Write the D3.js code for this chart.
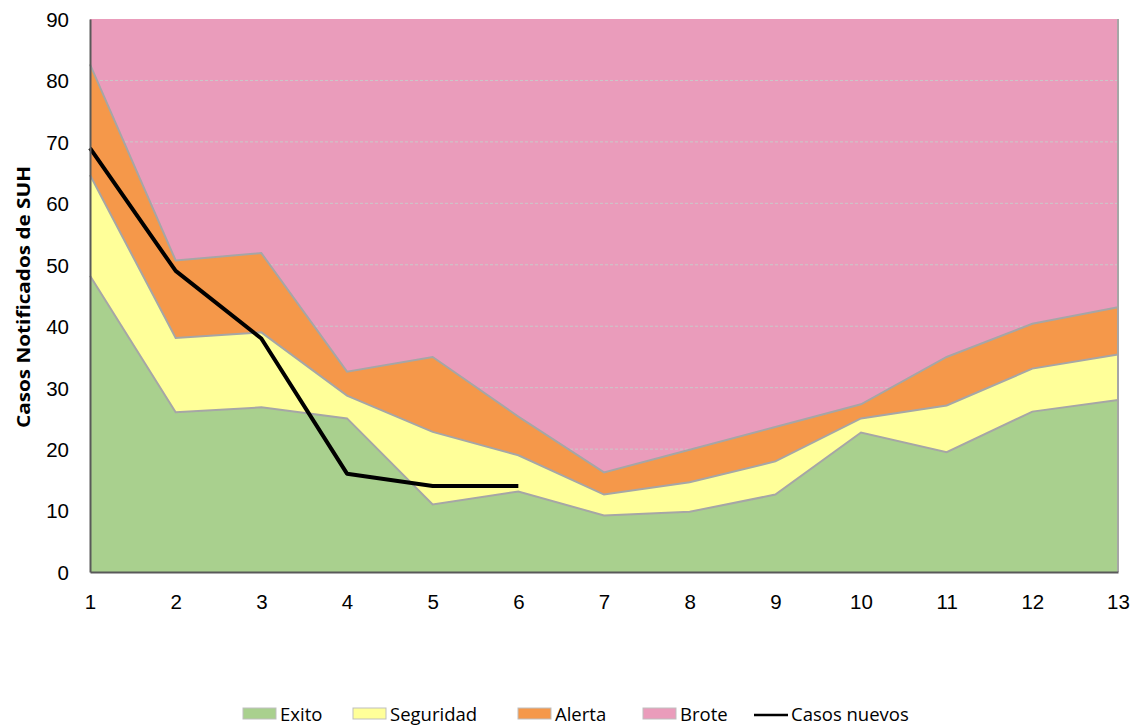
<!DOCTYPE html>
<html>
<head>
<meta charset="utf-8">
<script src="https://cdn.jsdelivr.net/npm/d3@7"></script>
<style>
  body { margin: 0; background: #fff; }
  svg { display: block; }
</style>
</head>
<body>
<svg id="chart" width="1142" height="728"></svg>
<script>
// semanas / periodos
let periods = [1, 2, 3, 4, 5, 6, 7, 8, 9, 10, 11, 12, 13];
// limites superiores de cada zona del canal endemico
let exito     = [48.2, 26.0, 26.8, 25.0, 11.0, 13.1, 9.2, 9.8, 12.6, 22.7, 19.5, 26.1, 28.0];
let seguridad = [64.6, 38.1, 39.0, 28.7, 22.8, 19.0, 12.6, 14.6, 18.0, 25.0, 27.1, 33.1, 35.4];
let alerta    = [82.6, 50.7, 51.9, 32.6, 35.0, 25.3, 16.2, 19.9, 23.6, 27.3, 35.0, 40.4, 43.1];
let brote     = [90, 90, 90, 90, 90, 90, 90, 90, 90, 90, 90, 90, 90];
let casosNuevos = [69, 49, 38, 16, 14, 14];
let yTicks = [0, 10, 20, 30, 40, 50, 60, 70, 80, 90];

let colors = {
    exito: "#a9d08e",
    seguridad: "#ffff99",
    alerta: "#f5984a",
    brote: "#ea9cbb"
};

let margin = {top: 19, right: 24, bottom: 156, left: 90};
let width = 1142 - margin.left - margin.right;
let height = 728 - margin.top - margin.bottom;

let svg = d3.select("#chart")
    .append("g")
    .attr("transform", "translate(" + margin.left + "," + margin.top + ")");

let xScale = d3.scaleLinear()
    .domain([1, 13])
    .range([0, width]);
let yScale = d3.scaleLinear()
    .domain([0, 90])
    .range([height, 0]);

function band(lower, upper){
    return d3.area()
        .x(function(d, i){ return xScale(periods[i]); })
        .y0(function(d, i){ return yScale(lower ? lower[i] : 0); })
        .y1(function(d, i){ return yScale(upper[i]); });
}

// Brote (fondo rosa hasta 90)
svg.append("path")
    .datum(periods)
    .attr("fill", colors.brote)
    .attr("d", band(alerta, brote));

// grid
svg.append("g")
    .selectAll("line")
    .data(yTicks.filter(function(t){ return t > 0 && t < 90; }))
    .enter().append("line")
    .attr("x1", 0)
    .attr("x2", width)
    .attr("y1", function(d){ return yScale(d); })
    .attr("y2", function(d){ return yScale(d); })
    .attr("stroke", "#c9c9c9")
    .attr("stroke-width", 1)
    .attr("stroke-dasharray", "3,2");

let layers = [
    {lower: seguridad, upper: alerta, color: colors.alerta},
    {lower: exito, upper: seguridad, color: colors.seguridad},
    {lower: null, upper: exito, color: colors.exito}
];
layers.forEach(function(l){
    svg.append("path")
        .datum(periods)
        .attr("fill", l.color)
        .attr("d", band(l.lower, l.upper));
});

// bordes grises de las zonas
let edge = d3.line()
    .x(function(d, i){ return xScale(periods[i]); })
    .y(function(d){ return yScale(d); });
[exito, seguridad, alerta].forEach(function(s){
    svg.append("path")
        .datum(s)
        .attr("fill", "none")
        .attr("stroke", "#a6a6a6")
        .attr("stroke-width", 2)
        .attr("d", edge);
});
svg.append("line")
    .attr("x1", width).attr("x2", width)
    .attr("y1", 0).attr("y2", height)
    .attr("stroke", "#a6a6a6")
    .attr("stroke-width", 2);

// casos nuevos
svg.append("path")
    .datum(casosNuevos)
    .attr("fill", "none")
    .attr("stroke", "#000")
    .attr("stroke-width", 4)
    .attr("stroke-linejoin", "round")
    .attr("d", edge);

// ejes
let xAxis = d3.axisBottom(xScale).tickValues(periods).tickSize(0).tickPadding(22);
let yAxis = d3.axisLeft(yScale).tickValues(yTicks).tickSize(0).tickPadding(21);

let gx = svg.append("g")
    .attr("transform", "translate(0," + height + ")")
    .call(xAxis);
let gy = svg.append("g").call(yAxis);

[gx, gy].forEach(function(g){
    g.select(".domain").attr("stroke", "#595959").attr("stroke-width", 2);
    g.selectAll("text")
        .attr("font-family", "Liberation Sans, Arial, sans-serif")
        .attr("font-size", 20.5)
        .attr("fill", "#000");
});
gy.selectAll("text").attr("dy", "0.36em");
gx.selectAll("text").attr("dy", "0.71em");

// titulo eje y
d3.select("#chart").append("text")
    .attr("transform", "translate(30,297) rotate(-90)")
    .attr("text-anchor", "middle")
    .attr("font-family", "Open Sans, sans-serif")
    .attr("font-weight", "bold")
    .attr("font-size", 18)
    .attr("textLength", 262)
    .attr("lengthAdjust", "spacingAndGlyphs")
    .attr("fill", "#000")
    .text("Casos Notificados de SUH");

// leyenda
let legendItems = [
    {label: "Exito", color: colors.exito, x: 243, type: "box"},
    {label: "Seguridad", color: colors.seguridad, x: 353, type: "box"},
    {label: "Alerta", color: colors.alerta, x: 518, type: "box"},
    {label: "Brote", color: colors.brote, x: 643, type: "box"},
    {label: "Casos nuevos", color: "#000", x: 754, type: "line"}
];
let legend = d3.select("#chart").append("g");
legendItems.forEach(function(item){
    if (item.type == "box"){
        legend.append("rect")
            .attr("x", item.x)
            .attr("y", 708)
            .attr("width", 33)
            .attr("height", 11)
            .attr("fill", item.color)
            .attr("stroke", "#bfbfbf")
            .attr("stroke-width", 1);
    } else {
        legend.append("line")
            .attr("x1", item.x).attr("x2", item.x + 34)
            .attr("y1", 715).attr("y2", 715)
            .attr("stroke", item.color)
            .attr("stroke-width", 2.5);
    }
    legend.append("text")
        .attr("x", item.x + 37)
        .attr("y", 721)
        .attr("font-family", "Open Sans, sans-serif")
        .attr("font-size", 18.5)
        .attr("fill", "#000")
        .text(item.label);
});
</script>
</body>
</html>
